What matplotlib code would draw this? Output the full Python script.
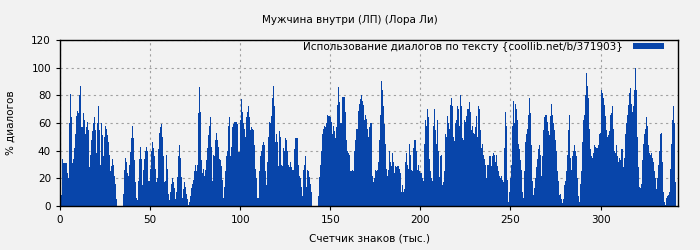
import numpy as np
import matplotlib
matplotlib.use('Agg')
import matplotlib.pyplot as plt

# dialog share (%) along the text, one value per ~0.556k chars
seg_a = [4, 8, 34, 31, 31, 31, 31, 24, 20, 60, 81, 64, 31, 34, 42, 52, 65, 69, 67,
         80, 87, 57, 57, 67, 62, 52, 57, 61, 55, 28, 37, 48, 54, 60, 64, 55, 38, 60, 72,
         55, 30, 60, 51, 36, 50, 58, 56, 51, 46, 37, 25, 29, 34, 30, 22, 16, 5,
         0, 0, 0, 0, 0, 0,
         9, 26, 35, 32, 24, 22, 30, 39, 49, 58, 49, 33, 17, 6, 4, 18, 34, 43, 34, 15,
         26, 34, 40, 43, 40, 18, 18]
seg_b = [27, 40, 46, 42, 36, 27, 17, 20, 41, 53, 57, 59, 50, 36, 17, 18, 37, 27, 9, 4,
         10, 16, 20, 17, 13, 5, 10, 21, 36, 44, 35, 21, 6, 12, 17, 14, 9, 5, 1, 3,
         7, 13, 16, 19, 25, 30, 25, 30, 67, 86, 68, 33, 24, 27, 22, 26, 33, 42, 51, 58,
         64, 43, 18, 37, 36, 48, 53, 48, 43, 34, 33, 29, 19, 6, 14, 25, 36, 40, 58, 64,
         36, 43, 57, 59, 61, 61, 61, 59, 39, 39]
seg_c = [62, 77, 68, 60, 56, 50, 64, 68, 72, 64, 55, 57, 56, 55, 44, 27, 20, 6, 6, 25,
         36, 40, 44, 46, 44, 25, 15, 32, 50, 61, 60, 65, 78, 87, 72, 46, 52, 46, 29, 54,
         50, 30, 29, 42, 40, 49, 48, 40, 30, 28, 32, 28, 26, 26, 41, 49, 49, 49, 30, 22,
         20, 14, 7, 26, 30, 36, 14, 26, 25, 21, 16, 10, 0, 0, 0, 0, 0, 0,
         7, 21, 30, 40, 52, 56, 58, 57, 60, 66, 65, 65]
seg_d = [64, 61, 52, 58, 54, 49, 57, 73, 86, 75, 60, 79, 79, 79, 68, 48, 40, 38, 37, 25,
         25, 26, 25, 40, 48, 56, 56, 69, 74, 77, 80, 76, 73, 62, 66, 63, 56, 50, 57, 60,
         60, 22, 17, 20, 26, 25, 26, 32, 48, 66, 90, 84, 72, 59, 45, 27, 22, 26, 40, 32,
         29, 38, 32, 24, 29, 28, 29, 29, 27, 24, 10, 15, 10, 12, 32, 38, 30, 27, 45, 37,
         26, 25, 42, 48, 48, 40, 26, 30, 25, 24]
seg_e = [24, 20, 18, 45, 62, 58, 70, 64, 34, 25, 20, 18, 58, 70, 55, 45, 62, 40, 21, 36,
         37, 15, 17, 25, 52, 50, 65, 60, 56, 73, 78, 72, 50, 47, 60, 62, 72, 70, 58, 80,
         72, 49, 48, 62, 61, 65, 70, 70, 75, 68, 55, 58, 53, 52, 57, 65, 50, 72, 70, 55,
         42, 45, 37, 34, 30, 20, 30, 30, 36, 36, 29, 36, 38, 37, 32, 37, 29, 25, 22, 20,
         22, 19, 17, 42, 68, 58, 19, 3, 10, 20]
seg_f = [30, 58, 76, 60, 74, 70, 62, 45, 41, 33, 26, 10, 6, 25, 46, 52, 56, 66, 78, 67,
         44, 18, 8, 13, 20, 28, 34, 41, 44, 37, 22, 36, 55, 64, 66, 66, 61, 54, 51, 65,
         74, 66, 60, 55, 48, 40, 25, 18, 8, 9, 5, 2, 5, 15, 18, 25, 37, 55, 66, 35,
         26, 36, 40, 44, 40, 36, 20, 7, 3, 16, 25, 46, 62, 66, 80, 96, 87, 78, 56, 41,
         36, 35, 38, 44, 43, 42, 42, 44, 52, 53]
seg_g = [84, 82, 78, 73, 65, 55, 50, 51, 54, 66, 67, 72, 56, 40, 38, 44, 36, 32, 35, 33,
         41, 41, 28, 35, 52, 60, 66, 73, 82, 85, 74, 68, 72, 84, 100, 84, 50, 28, 14, 13,
         16, 33, 45, 52, 56, 64, 58, 44, 38, 37, 38, 35, 32, 25, 20, 12, 20, 30, 40, 52,
         53, 32, 10, 3, 1, 6, 7, 8, 10, 27, 45, 62, 72, 60, 17]

dialog = np.array(seg_a + seg_b + seg_c + seg_d + seg_e + seg_f + seg_g)
step = 0.556
chars = np.arange(len(dialog)) * step

title = 'Мужчина внутри (ЛП) (Лора Ли)'
legend_label = 'Использование диалогов по тексту {coollib.net/b/371903}'
bg = '#f2f2f2'
blue = '#0845aa'

fig = plt.figure(figsize=(7, 2.5), dpi=100, facecolor=bg)
ax = fig.add_axes([0.0857, 0.176, 0.8829, 0.664])
ax.set_facecolor(bg)

ax.bar(chars, dialog, width=step, align='edge', color=blue, linewidth=0,
       label=legend_label, zorder=2)

ax.set_xlim(0, 343)
ax.set_ylim(0, 120)
ax.set_xticks(range(0, 301, 50))
ax.set_yticks(range(0, 121, 20))
ax.tick_params(labelsize=7.5, length=3, direction='out', color='k')
ax.grid(True, color='#a0a0a0', linestyle=(0, (2, 3)), linewidth=0.8, zorder=1)
for s in ax.spines.values():
    s.set_color('k')
    s.set_linewidth(1)
    s.set_zorder(3)

fig.suptitle(title, fontsize=7.5, y=0.94)
ax.set_xlabel('Счетчик знаков (тыс.)', fontsize=7.5, labelpad=6)
ax.set_ylabel('% диалогов', fontsize=7.5, labelpad=11)

ax.legend(loc='upper right', bbox_to_anchor=(0.977, 0.99), frameon=False,
          fontsize=7.5, markerfirst=False, handlelength=3.0, handleheight=0.6,
          borderaxespad=0, borderpad=0, handletextpad=0.9)

fig.savefig('out.png', dpi=100, facecolor=bg)
